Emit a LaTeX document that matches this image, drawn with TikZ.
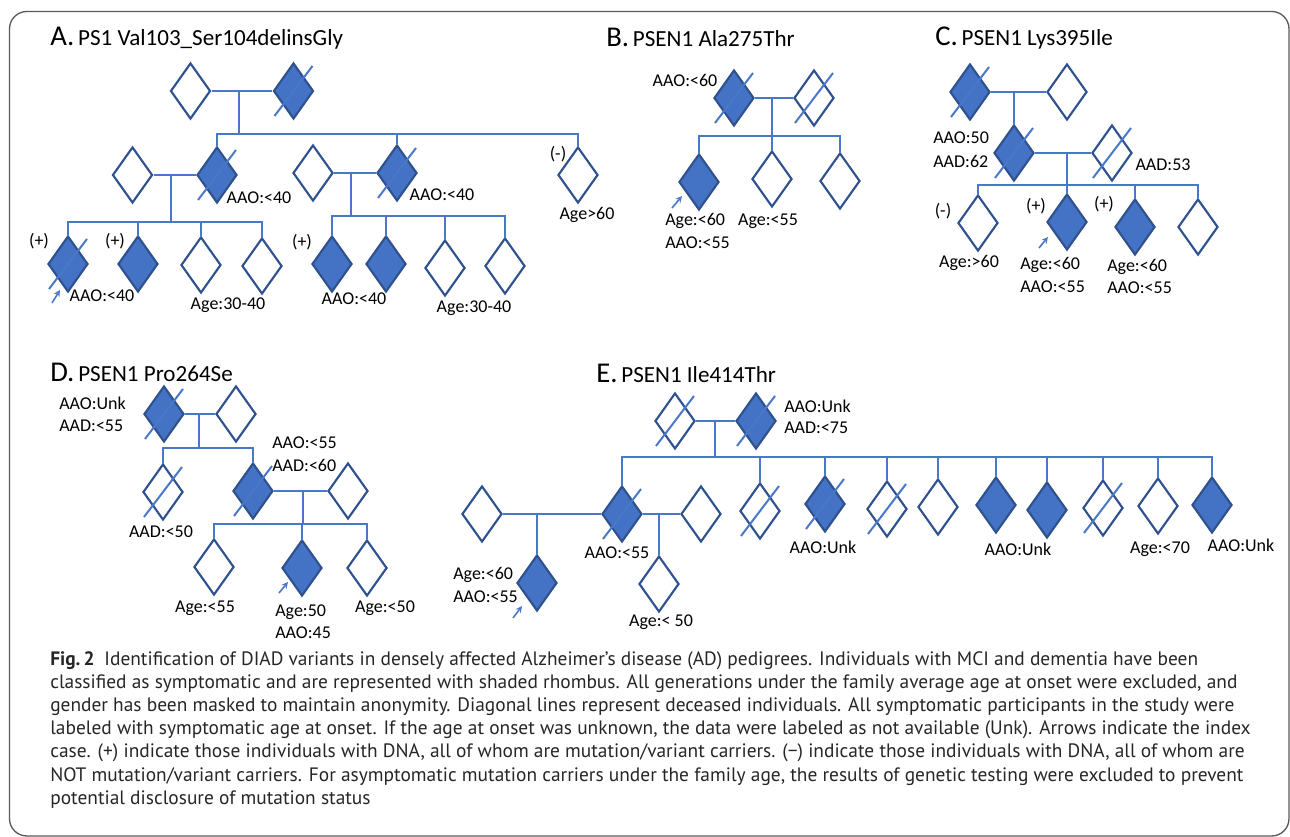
\documentclass[tikz,border=0pt]{standalone}
\usepackage{fontspec}
\setmainfont{Carlito}
\newfontfamily\capfont{PT Sans}
\usetikzlibrary{shapes.geometric}
\definecolor{fillblue}{HTML}{4472C4}
\definecolor{edgeblue}{HTML}{2F528F}
\definecolor{lineblue}{HTML}{4A78C8}
\definecolor{framegray}{HTML}{5A5A5A}
\newcommand{\dec}[1]{\draw [dslash] ([shift={(-19,25)}]#1.center) -- ([shift={(19,-25)}]#1.center);}
\begin{document}
\begin{tikzpicture}[x=0.75pt, y=-0.75pt,
    dia/.style={diamond, draw=edgeblue, line width=1.6pt, minimum width=30pt, minimum height=42pt, inner sep=0pt},
    aff/.style={dia, fill=fillblue},
    una/.style={dia, fill=white},
    ln/.style={draw=lineblue, line width=0.8pt},
    dslash/.style={draw=lineblue, line width=1.5pt},
    idx/.style={->, >=stealth, draw=lineblue, line width=1.2pt},
    lbl/.style={font=\fontsize{13.5}{15}\selectfont, inner sep=0pt},
    ttl/.style={font=\fontsize{17.3}{20}\selectfont, anchor=west, inner sep=0pt}]

    \useasboundingbox (0,0) rectangle (1290,837);
    \draw [framegray, line width=1pt, rounded corners=13] (9.5,11.5) rectangle (1289,836);

    % A
    \node [ttl] (ta) at (50,38) {{\fontsize{21.5}{21}\selectfont A.}\,PS1 Val103\_Ser104delinsGly};
    \node [una] (a1) at (190.5,91) {};
    \node [aff] (a2) at (293.5,91) {};
    \node [una] (a4) at (132.5,175) {};
    \node [aff] (a3) at (217,175) {};
    \node [una] (a9) at (313,173) {};
    \node [aff] (a10) at (397,173) {};
    \node [una] (a15) at (578,175) {};
    \node [aff] (a5) at (68,264) {};
    \node [aff] (a6) at (138,264) {};
    \node [una] (a7) at (201,265) {};
    \node [una] (a8) at (262,266) {};
    \node [aff] (a11) at (332,264) {};
    \node [aff] (a12) at (386,264) {};
    \node [una] (a13) at (445,268) {};
    \node [una] (a14) at (505,266) {};
    \dec{a2} \dec{a3} \dec{a10} \dec{a5}
    \coordinate (ma) at (239,134);
    \coordinate (mb) at (171,222);
    \coordinate (mc) at (351,216);
    \draw [ln] (a1.east) -- (a2.west);
    \draw [ln] (ma |- a1.east) -- (ma);
    \draw [ln] (a3.north) -- (a3.north |- ma) -- (a15.north |- ma) -- (a15.north);
    \draw [ln] (a10.north) -- (a10.north |- ma);
    \draw [ln] (a4.east) -- (a3.west);
    \draw [ln] (mb |- a3.west) -- (mb);
    \draw [ln] (a5.north) -- (a5.north |- mb) -- (a8.north |- mb) -- (a8.north);
    \draw [ln] (a6.north) -- (a6.north |- mb);
    \draw [ln] (a7.north) -- (a7.north |- mb);
    \draw [ln] (a9.east) -- (a10.west);
    \draw [ln] (mc |- a10.west) -- (mc);
    \draw [ln] (a11.north) -- (a11.north |- mc) -- (a14.north |- mc) -- (a14.north);
    \draw [ln] (a12.north) -- (a12.north |- mc);
    \draw [ln] (a13.north) -- (a13.north |- mc);
    \coordinate (pa0) at (52,303);
    \coordinate (pa1) at (60,290);
    \draw [idx] (pa0) -- (pa1);
    \node [lbl] (la1) at (259,198) {AAO:<40};
    \node [lbl] (la2) at (442,195) {AAO:<40};
    \node [lbl] (la3) at (558,154) {(-)};
    \node [lbl] (la4) at (587,215) {Age>60};
    \node [lbl] (la5) at (39,241) {(+)};
    \node [lbl] (la6) at (115,241) {(+)};
    \node [lbl] (la7) at (302,242) {(+)};
    \node [lbl] (la8) at (102,296) {AAO:<40};
    \node [lbl] (la9) at (228,305) {Age:30-40};
    \node [lbl] (la10) at (354,299) {AAO:<40};
    \node [lbl] (la11) at (474,308) {Age:30-40};

    % B
    \node [ttl] (tb) at (606,37) {{\fontsize{21.5}{21}\selectfont B.}\,PSEN1 Ala275Thr};
    \node [aff] (b1) at (734,98) {};
    \node [una] (b2) at (814,98) {};
    \node [aff] (b3) at (699,182) {};
    \node [una] (b4) at (772,179) {};
    \node [una] (b5) at (840,181) {};
    \dec{b1} \dec{b2}
    \coordinate (mB) at (772,136);
    \draw [ln] (b1.east) -- (b2.west);
    \draw [ln] (mB |- b1.east) -- (mB);
    \draw [ln] (b3.north) -- (b3.north |- mB) -- (b5.north |- mB) -- (b5.north);
    \draw [ln] (b4.north) -- (b4.north |- mB);
    \coordinate (pb0) at (672,208);
    \coordinate (pb1) at (682,196);
    \draw [idx] (pb0) -- (pb1);
    \node [lbl] (lb1) at (685,80) {AAO:<60};
    \node [lbl, anchor=west] (lb2) at (665,221) {Age:<60};
    \node [lbl, anchor=west] (lb3) at (665,243) {AAO:<55};
    \node [lbl] (lb4) at (768,221) {Age:<55};

    % C
    \node [ttl] (tc) at (935,38) {{\fontsize{21.5}{21}\selectfont C.}\,PSEN1 Lys395Ile};
    \node [aff] (c1) at (970,92) {};
    \node [una] (c2) at (1067,92) {};
    \node [aff] (c3) at (1014,153) {};
    \node [una] (c4) at (1112,153) {};
    \node [una] (c5) at (978,223) {};
    \node [aff] (c6) at (1067,222) {};
    \node [aff] (c7) at (1135,227) {};
    \node [una] (c8) at (1198,227) {};
    \dec{c1} \dec{c3} \dec{c4}
    \coordinate (mC) at (1067,185);
    \draw [ln] (c1.east) -- (c2.west);
    \draw [ln] (c3.north) -- (c3.north |- c1.east);
    \draw [ln] (c3.east) -- (c4.west);
    \draw [ln] (mC |- c3.east) -- (mC);
    \draw [ln] (c5.north) -- (c5.north |- mC) -- (c8.north |- mC) -- (c8.north);
    \draw [ln] (c6.north) -- (c6.north |- mC);
    \draw [ln] (c7.north) -- (c7.north |- mC);
    \coordinate (pc0) at (1039,248);
    \coordinate (pc1) at (1048,237);
    \draw [idx] (pc0) -- (pc1);
    \node [lbl, anchor=west] (lc1) at (933,138) {AAO:50};
    \node [lbl, anchor=west] (lc2) at (933,161) {AAD:62};
    \node [lbl] (lc3) at (1163,165) {AAD:53};
    \node [lbl] (lc4) at (943,211) {(-)};
    \node [lbl] (lc5) at (969,263) {Age:>60};
    \node [lbl] (lc6) at (1036,206) {(+)};
    \node [lbl, anchor=west] (lc7) at (1020,265) {Age:<60};
    \node [lbl, anchor=west] (lc8) at (1020,287) {AAO:<55};
    \node [lbl] (lc9) at (1104,204) {(+)};
    \node [lbl, anchor=west] (lc10) at (1107,267) {Age:<60};
    \node [lbl, anchor=west] (lc11) at (1107,288) {AAO:<55};

    % D
    \node [ttl] (td) at (50,372) {{\fontsize{21.5}{21}\selectfont D.}\,PSEN1 Pro264Se};
    \node [aff] (d1) at (164,414) {};
    \node [una] (d2) at (236,414) {};
    \node [una] (d3) at (163,492) {};
    \node [aff] (d4) at (253,491) {};
    \node [una] (d5) at (348,491) {};
    \node [una] (d6) at (214,567) {};
    \node [aff] (d7) at (302,568) {};
    \node [una] (d8) at (367,568) {};
    \dec{d1} \dec{d3} \dec{d4}
    \coordinate (mD1) at (199,448);
    \coordinate (mD2) at (303,524);
    \draw [ln] (d1.east) -- (d2.west);
    \draw [ln] (mD1 |- d1.east) -- (mD1);
    \draw [ln] (d3.north) -- (d3.north |- mD1) -- (d4.north |- mD1) -- (d4.north);
    \draw [ln] (d4.east) -- (d5.west);
    \draw [ln] (mD2 |- d4.east) -- (mD2);
    \draw [ln] (d6.north) -- (d6.north |- mD2) -- (d8.north |- mD2) -- (d8.north);
    \draw [ln] (d7.north) -- (d7.north |- mD2);
    \coordinate (pd0) at (279,593);
    \coordinate (pd1) at (288,582);
    \draw [idx] (pd0) -- (pd1);
    \node [lbl, anchor=west] (ld1) at (59,403) {AAO:Unk};
    \node [lbl, anchor=west] (ld2) at (59,426) {AAD:<55};
    \node [lbl] (ld3) at (161,532) {AAD:<50};
    \node [lbl, anchor=west] (ld4) at (272,443) {AAO:<55};
    \node [lbl, anchor=west] (ld5) at (272,465) {AAD:<60};
    \node [lbl] (ld6) at (205,608) {Age:<55};
    \node [lbl, anchor=west] (ld7) at (275,612) {Age:50};
    \node [lbl, anchor=west] (ld8) at (275,633) {AAO:45};
    \node [lbl] (ld9) at (385,608) {Age:<50};

    % E
    \node [ttl] (te) at (596,373) {{\fontsize{21.5}{21}\selectfont E.}\,PSEN1 Ile414Thr};
    \node [una] (e1) at (675,421) {};
    \node [aff] (e2) at (756,421) {};
    \node [una] (e4) at (482,514) {};
    \node [aff] (e3) at (622,514) {};
    \node [una] (e6) at (701,514) {};
    \node [aff] (e5) at (537,583) {};
    \node [una] (e7) at (659,584) {};
    \node [una] (s1) at (760,511) {};
    \node [aff] (s2) at (825,504) {};
    \node [una] (s3) at (887,509) {};
    \node [una] (s4) at (938,507) {};
    \node [aff] (s5) at (996,505) {};
    \node [aff] (s6) at (1047,510) {};
    \node [una] (s7) at (1103,508) {};
    \node [una] (s8) at (1158,506) {};
    \node [aff] (s9) at (1212,505) {};
    \dec{e1} \dec{e2} \dec{e3} \dec{s1} \dec{s2} \dec{s3} \dec{s7}
    \coordinate (mE) at (715,457);
    \draw [ln] (e1.east) -- (e2.west);
    \draw [ln] (mE |- e1.east) -- (mE);
    \draw [ln] (e3.north) -- (e3.north |- mE) -- (s9.north |- mE) -- (s9.north);
    \foreach \n in {s1,s2,s3,s4,s5,s6,s7,s8}
      \draw [ln] (\n.north) -- (\n.north |- mE);
    \draw [ln] (e4.east) -- (e3.west);
    \draw [ln] (e5.north) -- (e5.north |- e3.west);
    \draw [ln] (e3.east) -- (e6.west);
    \draw [ln] (e7.north) -- (e7.north |- e3.east);
    \coordinate (pe0) at (513,618);
    \coordinate (pe1) at (522,606);
    \draw [idx] (pe0) -- (pe1);
    \node [lbl, anchor=west] (le1) at (784,406) {AAO:Unk};
    \node [lbl, anchor=west] (le2) at (784,428) {AAD:<75};
    \node [lbl] (le3) at (617,553) {AAO:<55};
    \node [lbl, anchor=west] (le4) at (453,575) {Age:<60};
    \node [lbl, anchor=west] (le5) at (453,597) {AAO:<55};
    \node [lbl] (le6) at (661,622) {Age:< 50};
    \node [lbl] (le7) at (823,547) {AAO:Unk};
    \node [lbl] (le8) at (1018,549) {AAO:Unk};
    \node [lbl] (le9) at (1160,549) {Age:<70};
    \node [lbl] (le10) at (1241,545) {AAO:Unk};

    % caption
    \node [anchor=north west, inner sep=0pt, align=left, text=black!85,
           font=\capfont\fontsize{14.55}{17.4}\selectfont] (cap) at (50,651)
      {\textbf{Fig.\,2}\enspace Identification of DIAD variants in densely affected Alzheimer’s disease (AD) pedigrees. Individuals with MCI and dementia have been\\
       classified as symptomatic and are represented with shaded rhombus. All generations under the family average age at onset were excluded, and\\
       gender has been masked to maintain anonymity. Diagonal lines represent deceased individuals. All symptomatic participants in the study were\\
       labeled with symptomatic age at onset. If the age at onset was unknown, the data were labeled as not available (Unk). Arrows indicate the index\\
       case. (+) indicate those individuals with DNA, all of whom are mutation/variant carriers. (−) indicate those individuals with DNA, all of whom are\\
       NOT mutation/variant carriers. For asymptomatic mutation carriers under the family age, the results of genetic testing were excluded to prevent\\
       potential disclosure of mutation status};

\end{tikzpicture}
\end{document}
